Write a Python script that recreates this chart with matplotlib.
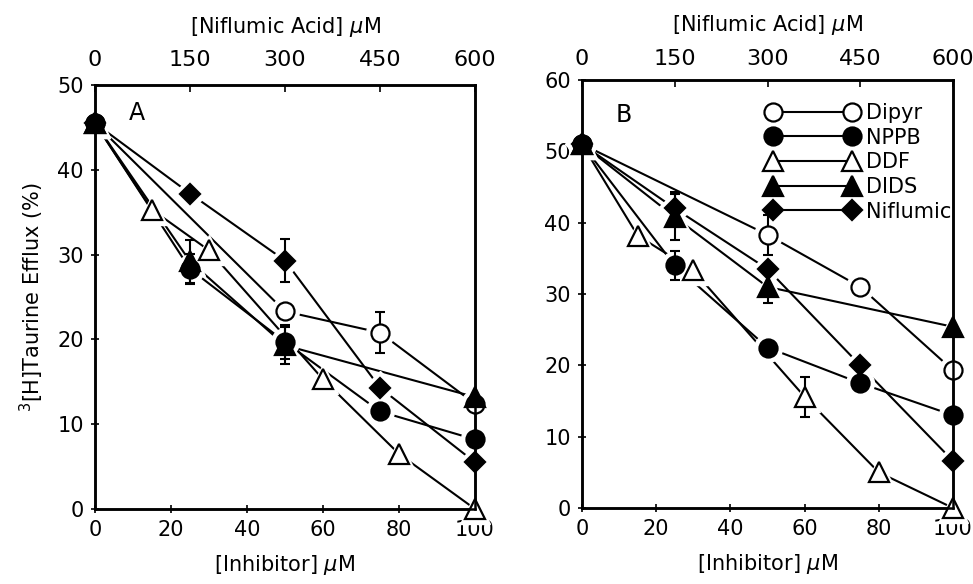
import matplotlib
matplotlib.use('Agg')
import matplotlib.pyplot as plt
from matplotlib.lines import Line2D

# --- DATA ---
names = ['Dipyr', 'NPPB', 'DDF', 'DIDS', 'Niflumic']
markers = ['o', 'o', '^', '^', 'D']
filled = [False, True, False, True, True]
msizes = [13, 13, 14, 14, 10]

# panel A
a_x = {
    'Dipyr': [0, 50, 75, 100],
    'NPPB': [0, 25, 50, 75, 100],
    'DDF': [0, 15, 30, 60, 80, 100],
    'DIDS': [0, 25, 50, 100],
    'Niflumic': [0, 25, 50, 75, 100],
}
a_y = {
    'Dipyr': [45.5, 23.3, 20.8, 12.4],
    'NPPB': [45.5, 28.3, 19.7, 11.5, 8.2],
    'DDF': [45.5, 35.3, 30.5, 15.3, 6.5, 0.0],
    'DIDS': [45.5, 29.2, 19.3, 13.2],
    'Niflumic': [45.5, 37.2, 29.3, 14.3, 5.5],
}
a_err = {
    'Dipyr': [0, 0, 2.4, 0],
    'NPPB': [0, 1.8, 2.0, 0, 0],
    'DDF': [0, 0, 0, 0, 0, 0],
    'DIDS': [0, 2.5, 2.2, 0],
    'Niflumic': [0, 0, 2.5, 0, 0],
}

# panel B
b_x = a_x
b_y = {
    'Dipyr': [51.0, 38.3, 31.0, 19.3],
    'NPPB': [51.0, 34.0, 22.5, 17.5, 13.0],
    'DDF': [51.0, 38.2, 33.3, 15.6, 5.0, 0.0],
    'DIDS': [51.0, 40.8, 31.0, 25.4],
    'Niflumic': [51.0, 42.0, 33.5, 20.0, 6.6],
}
b_err = {
    'Dipyr': [0, 2.8, 0, 0],
    'NPPB': [0, 2.0, 0, 0, 0],
    'DDF': [0, 0, 0, 2.8, 0, 0],
    'DIDS': [0, 3.2, 2.2, 0],
    'Niflumic': [0, 2.3, 0, 0, 0],
}

top_ticks = [0, 150, 300, 450, 600]
bottom_ticks = [0, 20, 40, 60, 80, 100]

plt.rcParams['font.family'] = 'DejaVu Sans'
plt.rcParams['font.size'] = 15

fig = plt.figure(figsize=(9.73, 5.84), dpi=100)
W, H = 973, 584
axA = fig.add_axes([95 / W, 1 - 509 / H, 380 / W, 424 / H])
axB = fig.add_axes([582 / W, 1 - 508 / H, 371 / W, 428 / H])


def draw_panel(ax, xs, ys, errs, ymax, letter, letter_y, top_pad, top_lpad):
    for name, m, f, ms in zip(names, markers, filled, msizes):
        x, y, e = xs[name], ys[name], errs[name]
        fc = 'black' if f else 'white'
        ax.plot(x, y, '-', color='black', lw=1.5, zorder=2, clip_on=False)
        # white halo to get the gaps around markers
        ax.plot(x, y, m, ms=ms + 7, mfc='white', mec='white', zorder=2.2, clip_on=False)
        ex = [xi for xi, ei in zip(x, e) if ei > 0]
        ey = [yi for yi, ei in zip(y, e) if ei > 0]
        ee = [ei for ei in e if ei > 0]
        if ex:
            ax.errorbar(ex, ey, yerr=ee, fmt='none', ecolor='black', elinewidth=1.5,
                        capsize=3.5, capthick=1.5, zorder=4)
        ax.plot(x, y, m, ms=ms, mfc=fc, mec='black', mew=1.6, zorder=5, clip_on=False)

    ax.set_xlim(0, 100)
    ax.set_ylim(0, ymax)
    ax.set_xticks(bottom_ticks)
    ax.set_yticks(range(0, ymax + 1, 10))
    ax.tick_params(direction='inout', length=6, width=1.2, labelsize=15, pad=5)
    for s in ax.spines.values():
        s.set_linewidth(1.8)
    ax.set_xlabel('[Inhibitor] $\\mu$M', fontsize=15, labelpad=9)
    ax.text(9, letter_y, letter, fontsize=17, ha='left', va='center')

    top = ax.twiny()
    top.set_xlim(0, 600)
    top.set_xticks(top_ticks)
    top.tick_params(direction='in', length=5, width=1.2, labelsize=16, pad=top_pad)
    top.set_xlabel('[Niflumic Acid] $\\mu$M', fontsize=15, labelpad=top_lpad)
    for s in top.spines.values():
        s.set_linewidth(1.8)


draw_panel(axA, a_x, a_y, a_err, 50, 'A', 46.7, 11, 12)
draw_panel(axB, b_x, b_y, b_err, 60, 'B', 55.1, 8, 13)
axA.set_ylabel('$^3$[H]Taurine Efflux (%)', fontsize=15, labelpad=8)

handles = []
for name, m, f, ms in zip(names, markers, filled, msizes):
    handles.append(Line2D([0], [0], color='black', lw=1.5, marker=m, ms=ms,
                          mfc='black' if f else 'white', mec='black', mew=1.6))
axB.legend(handles, names, loc='upper right', bbox_to_anchor=(1.03, 0.975),
           frameon=False, numpoints=2, handlelength=4.4, labelspacing=0.22,
           handletextpad=0.4, fontsize=15, borderaxespad=0.2)

fig.savefig('out.png', dpi=100)
